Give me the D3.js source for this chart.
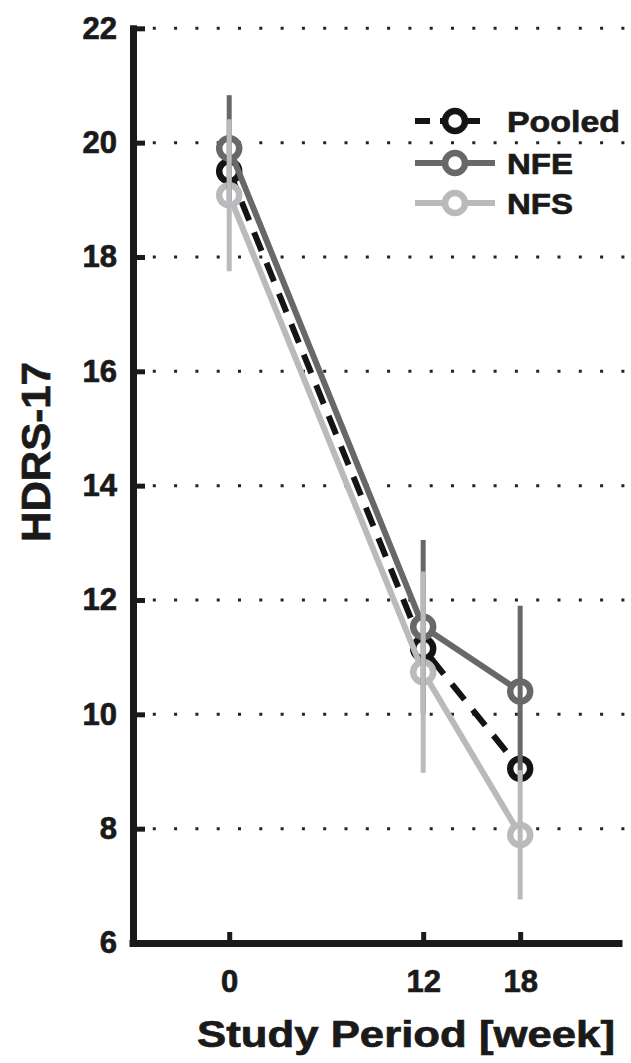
<!DOCTYPE html>
<html>
<head>
<meta charset="utf-8">
<script src="https://cdn.jsdelivr.net/npm/d3@7"></script>
<style>
  html, body { margin: 0; padding: 0; background: #fff; }
  svg { display: block; }
  text { font-family: "Liberation Sans", Arial, sans-serif; font-weight: bold; fill: #1a1a1a; stroke: #1a1a1a; stroke-width: 0.7px; }
</style>
</head>
<body>
<svg id="chart" width="631" height="1063"></svg>
<script>
// ---- data ----
const weeks = [0, 12, 18];
const xTickValues = [0, 12, 18];
const yTickValues = [6, 8, 10, 12, 14, 16, 18, 20, 22];
const gridValues = [8, 10, 12, 14, 16, 18, 20, 22];
const seriesNames = ["Pooled", "NFE", "NFS"];
const pooledMean = [19.5, 11.15, 9.05];
const nfeMean = [19.9, 11.53, 10.4];
const nfeErr = [0.93, 1.52, 1.5];
const nfsMean = [19.08, 10.74, 7.89];
const nfsErr = [1.33, 1.76, 1.13];
const xTitle = "Study Period [week]";
const yTitle = "HDRS-17";

// ---- styles ----
const colors = { Pooled: "#141414", NFE: "#686868", NFS: "#bababd" };

const svg = d3.select("#chart");
const x = d3.scaleLinear().domain([-6.2, 24.3]).range([129, 622]);
const y = d3.scaleLinear().domain([6, 22]).range([943, 28.3]);
const axisX = 133;

// gridlines
svg.append("g").selectAll("line").data(gridValues).join("line")
  .attr("x1", axisX + 21.3 - 1.5).attr("x2", 628)
  .attr("y1", d => y(d)).attr("y2", d => y(d))
  .attr("stroke", "#222").attr("stroke-width", 3)
  .attr("stroke-dasharray", "3,18.3");

// series
const series = [
  { name: "Pooled", mean: pooledMean, err: null, dash: "20,13" },
  { name: "NFE", mean: nfeMean, err: nfeErr, dash: null },
  { name: "NFS", mean: nfsMean, err: nfsErr, dash: null }
];

const line = d3.line().x(d => x(d.w)).y(d => y(d.v));

series.forEach(s => {
  const pts = weeks.map((w, i) => ({ w, v: s.mean[i] }));
  const g = svg.append("g");
  g.append("path").datum(pts).attr("d", line)
    .attr("fill", "none").attr("stroke", colors[s.name])
    .attr("stroke-width", 6)
    .attr("stroke-dasharray", s.dash);
  g.selectAll("circle").data(pts).join("circle")
    .attr("cx", d => x(d.w)).attr("cy", d => y(d.v)).attr("r", 10)
    .attr("fill", "#fff").attr("stroke", colors[s.name]).attr("stroke-width", 6.5);
});

// error bars (drawn on top)
series.filter(s => s.err).forEach(s => {
  svg.append("g").selectAll("line").data(weeks.map((w, i) => ({ w, v: s.mean[i], e: s.err[i] }))).join("line")
    .attr("x1", d => x(d.w)).attr("x2", d => x(d.w))
    .attr("y1", d => y(d.v + d.e)).attr("y2", d => y(d.v - d.e))
    .attr("stroke", colors[s.name]).attr("stroke-width", 5);
});

// axes
const gy = svg.append("g").attr("transform", `translate(${axisX},0)`)
  .call(d3.axisLeft(y).tickValues(yTickValues).tickSizeInner(-12).tickSizeOuter(0).tickPadding(16).tickFormat(d3.format("d")));
gy.select(".domain").attr("stroke", "#1a1a1a").attr("stroke-width", 7).attr("stroke-linecap", "square");
gy.selectAll(".tick line").attr("stroke", "#1a1a1a").attr("stroke-width", 5);
gy.selectAll(".tick text").attr("font-size", 31).attr("fill", "#1a1a1a")
  .style("font-family", "'Liberation Sans', Arial, sans-serif").style("font-weight", "bold");

const gx = svg.append("g").attr("transform", `translate(0,943)`)
  .call(d3.axisBottom(x).tickValues(xTickValues).tickSizeInner(-11).tickSizeOuter(0).tickPadding(27).tickFormat(d3.format("d")));
gx.select(".domain").attr("stroke", "#1a1a1a").attr("stroke-width", 7);
gx.selectAll(".tick line").attr("stroke", "#1a1a1a").attr("stroke-width", 5);
gx.selectAll(".tick text").attr("font-size", 31).attr("fill", "#1a1a1a")
  .style("font-family", "'Liberation Sans', Arial, sans-serif").style("font-weight", "bold");

// axis titles
svg.append("text").attr("x", 406).attr("y", 1047).attr("text-anchor", "middle")
  .attr("font-size", 37).attr("textLength", 418).attr("lengthAdjust", "spacingAndGlyphs")
  .text(xTitle);
svg.append("text").attr("transform", "translate(50,452) rotate(-90)").attr("text-anchor", "middle")
  .attr("font-size", 41).attr("textLength", 180).attr("lengthAdjust", "spacingAndGlyphs")
  .text(yTitle);

// legend
const legendY = [121, 163, 203];
const legendW = [113, 66, 66];
const lg = svg.append("g");
seriesNames.forEach((name, i) => {
  const cy = legendY[i];
  lg.append("line").attr("x1", 415).attr("x2", name === "Pooled" ? 480 : 495)
    .attr("y1", cy).attr("y2", cy)
    .attr("stroke", colors[name]).attr("stroke-width", 6)
    .attr("stroke-dasharray", name === "Pooled" ? "15,10,40" : null);
  lg.append("circle").attr("cx", 455).attr("cy", cy).attr("r", 10)
    .attr("fill", "#fff").attr("stroke", colors[name]).attr("stroke-width", 6.5);
  lg.append("text").attr("x", 507).attr("y", cy + 11).attr("font-size", 30)
    .attr("textLength", legendW[i]).attr("lengthAdjust", "spacingAndGlyphs")
    .text(name);
});
</script>
</body>
</html>
